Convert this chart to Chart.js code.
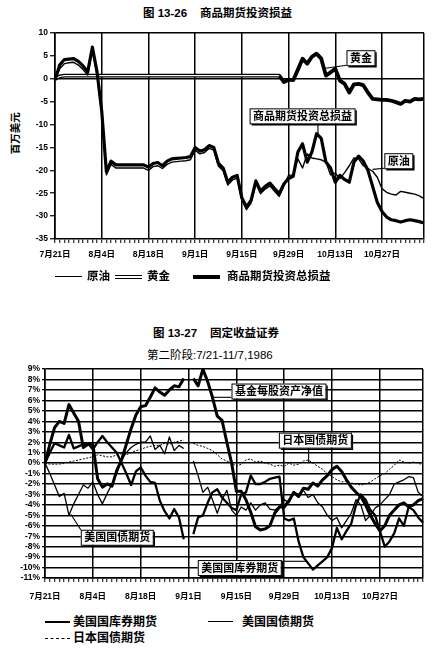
<!DOCTYPE html>
<html><head><meta charset="utf-8">
<script src="https://cdn.jsdelivr.net/npm/chart.js@4.4.1/dist/chart.umd.min.js"></script>
<style>
body{margin:0;background:#fff;width:436px;height:653px;position:relative;overflow:hidden;font-family:"Liberation Sans","Noto Sans CJK SC",sans-serif;font-weight:bold;color:#000}
.t{position:absolute;white-space:nowrap;line-height:1}
canvas{position:absolute;left:0}
.ln{position:absolute;height:0}
</style></head><body>
<div class="t" style="left:143px;top:8px;font-size:11.5px">图 13-26&nbsp;&nbsp;&nbsp;&nbsp;商品期货投资损益</div>
<div class="t" style="left:-6px;top:128px;font-size:10.5px;transform:rotate(-90deg);transform-origin:center">百万美元</div>
<canvas id="c1" width="436" height="250" style="top:25px"></canvas>
<div class="ln" style="left:55px;top:276px;width:27px;border-top:1.5px solid #000"></div>
<div class="t" style="left:87px;top:271px;font-size:11.5px">原油</div>
<div class="ln" style="left:115px;top:275px;width:27px;border-top:4px double #000"></div>
<div class="t" style="left:147px;top:271px;font-size:11.5px">黄金</div>
<div class="ln" style="left:193px;top:275px;width:27px;border-top:4px solid #000"></div>
<div class="t" style="left:227px;top:271px;font-size:11.5px">商品期货投资总损益</div>

<div class="t" style="left:153px;top:328px;font-size:11.5px">图 13-27&nbsp;&nbsp;&nbsp;&nbsp;固定收益证券</div>
<div class="t" style="left:147px;top:350px;font-size:11.5px;font-weight:normal">第二阶段:7/21-11/7,1986</div>
<canvas id="c2" width="436" height="250" style="top:362px"></canvas>
<div class="ln" style="left:45px;top:621px;width:25px;border-top:2.5px solid #000"></div>
<div class="t" style="left:73px;top:616px;font-size:12px">美国国库券期货</div>
<div class="ln" style="left:208px;top:621px;width:25px;border-top:1.5px solid #000"></div>
<div class="t" style="left:242px;top:616px;font-size:12px">美国国债期货</div>
<div class="ln" style="left:45px;top:638px;width:25px;border-top:1px dashed #000"></div>
<div class="t" style="left:73px;top:632px;font-size:12px">日本国债期货</div>
<script>
// ---------- data ----------
const dayLabels = ['7月21日','8月4日','8月18日','9月1日','9月15日','9月29日','10月13日','10月27日'];

// Fig 13-26 (million USD), one value per trading day 7/21 - 11/7
const crudeOil = [
 -0.3, 2.2, 3.3, 3.5, 3.6, 3.0, 2.0, 0.8, 6.2, 0.8,
 -7.7,-21.0,-18.7,-19.5,-19.5,-19.5,-19.5,-19.5,-19.5,-19.5,
 -20.0,-19.2,-19.0,-19.6,-18.7,-18.2,-18.1,-18.0,-17.9,-17.7,
 -15.6,-16.4,-16.1,-15.2,-15.6,-19.1,-20.1,-23.2,-22.1,-21.7,
 -26.6,-28.6,-27.1,-22.9,-25.1,-24.1,-23.4,-24.6,-25.7,-23.4,
 -21.1,-21.0,-17.5,-19.5,-16.4,-17.3,-17.5,-17.7,-18.2,-21.0,
 -20.6,-21.8,-20.5,-19.0,-17.3,-17.5,-19.0,-19.6,-20.2,-21.5,
 -24.0,-24.8,-25.2,-25.4,-24.6,-24.8,-25.0,-25.2,-25.6,-26.2];
const gold = [
 0.0, 0.5, 0.7, 0.7, 0.7, 0.7, 0.7, 0.7, 0.7, 0.7,
 0.7, 0.7, 0.7, 0.7, 0.7, 0.7, 0.7, 0.7, 0.7, 0.7,
 0.7, 0.7, 0.7, 0.7, 0.7, 0.7, 0.7, 0.7, 0.7, 0.7,
 0.7, 0.7, 0.7, 0.7, 0.7, 0.7, 0.7, 0.7, 0.7, 0.7,
 0.7, 0.7, 0.7, 0.7, 0.7, 0.7, 0.7, 0.7, 0.7,-0.7,
 -0.2,-0.3, 2.0, 4.4, 3.3, 4.8, 5.5, 4.4, 0.7, 1.4,
 2.2,-0.4,-1.1,-3.0,-1.2,-1.1,-1.4,-3.0,-4.4,-4.5,
 -4.6,-4.6,-4.8,-5.1,-5.5,-4.8,-5.0,-4.4,-4.5,-4.4];
const totalPL = [
 -0.3, 3.0, 4.2, 4.3, 4.4, 3.8, 2.8, 1.5, 6.9, 1.5,
 -7.0,-20.3,-18.0,-18.8,-18.8,-18.8,-18.8,-18.8,-18.8,-18.8,
 -19.3,-18.5,-18.3,-19.0,-18.0,-17.5,-17.4,-17.3,-17.2,-17.0,
 -15.0,-15.8,-15.5,-14.6,-15.0,-18.5,-19.5,-22.6,-21.5,-21.1,
 -26.0,-28.0,-26.5,-22.3,-24.5,-23.5,-22.8,-24.0,-25.1,-23.0,
 -21.8,-21.3,-16.0,-14.2,-18.2,-16.0,-12.0,-13.0,-18.2,-19.5,
 -22.6,-21.1,-22.0,-22.6,-18.2,-16.9,-18.0,-20.0,-23.5,-27.0,
 -29.0,-30.2,-30.8,-31.0,-31.3,-31.0,-30.8,-31.0,-31.2,-31.5];

// Fig 13-27 (%), 9/1 holiday = null
const navFund = [
 0.0, 1.8, 3.4, 4.0, 3.8, 5.6, 4.8, 4.0, 1.5, 1.8,
 1.8,-1.5,-2.3,-2.0,-2.2,-0.7, 0.3, 1.8, 3.3, 4.6,
 5.4, 5.5, 6.3, 7.2, 6.8, 6.5, 7.0, 7.4, 7.3, 8.1,
 null, 8.1, 7.4, 9.0, 7.8, 6.3, 4.5, 4.1, 2.0, 0.0,
 -2.7,-2.7,-3.5,-4.7,-6.1,-6.4,-6.3,-6.0,-4.8,-4.2,
 -4.2,-3.6,-2.8,-3.2,-2.4,-2.5,-1.9,-2.2,-1.6,-1.2,
 -0.6,-0.3,-0.8,-1.6,-2.3,-2.8,-3.2,-4.0,-5.0,-5.8,
 -6.5,-6.0,-5.0,-4.5,-4.0,-3.8,-4.2,-4.0,-3.6,-3.4];
const usTBond = [
 0.0, 1.0, 1.9, 1.7, 1.5, 2.7, 1.4, 1.6, 1.8, 1.9,
 1.3, 2.0, 2.6, 2.0, 1.5, 1.0, 0.0,-1.0,-2.1,-0.8,
 -0.4,-1.2,-1.8,-1.9,-3.6,-4.6,-5.3,-4.4,-5.2,-7.3,
 null,-6.8,-5.2,-5.0,-3.8,-2.8,-2.5,-3.3,-3.8,-4.3,
 -4.5,-3.0,-2.8,-1.2,-2.0,-2.0,-1.8,-1.5,-1.4,-1.3,
 -5.3,-5.5,-5.3,-7.5,-9.0,-9.6,-10.2,-9.8,-9.4,-9.0,
 -8.1,-6.2,-7.3,-6.5,-5.8,-4.0,-3.0,-3.5,-4.5,-5.0,
 -6.5,-8.0,-7.5,-6.7,-5.3,-6.0,-4.2,-4.5,-5.2,-5.7];
const usNote = [
 0.0,-1.0,-2.1,-3.2,-2.9,-5.0,-3.9,-3.0,-2.1,-2.4,
 -1.8,-3.0,-3.9,-2.9,-2.0,-1.0, 0.3, 1.0, 1.5, 1.8,
 2.0, 2.0, 2.6, 1.3, 1.7, 0.9, 2.5, 1.2, 1.7, 1.4,
 null, 0.2,-1.2,-2.8,-2.3,-3.5,-4.8,-3.5,-2.6,-4.5,
 -5.0,-4.2,-4.5,-3.8,-4.5,-4.0,-3.8,-4.4,-4.5,-4.2,
 -3.5,-3.8,-2.8,-3.0,-2.6,-3.3,-3.0,-3.8,-4.2,-5.0,
 -5.5,-5.2,-6.2,-5.5,-4.8,-3.5,-4.0,-5.5,-5.0,-4.3,
 -4.0,-3.5,-3.0,-2.0,-1.8,-1.6,-1.3,-1.4,-2.8,-3.2];
const jpBond = [
 0.0,-0.1,-0.1,-0.1, 0.0, 0.1, 0.2, 0.3, 0.4, 0.5,
 0.6, 0.8, 0.7, 0.6, 0.6, 0.8, 0.9, 0.8, 1.0, 1.2,
 1.3, 1.5, 1.6, 1.7, 1.7, 1.9, 1.8, 2.0, 2.1, 2.2,
 null, 1.9, 1.7, 1.6, 1.4, 1.2, 0.8, 0.4, 0.2, 0.0,
 -0.3,-0.1, 0.3, 0.4, 0.1, 0.2, 0.0,-0.1,-0.3,-0.2,
 -0.3, 0.0,-0.2,-0.1, 0.2, 0.3, 0.0,-0.3,-0.6,-1.0,
 -1.3,-1.6,-1.8,-1.7,-1.9,-2.0,-2.1,-2.0,-1.8,-1.5,
 -1.2,-1.0,-0.6,-0.2, 0.3, 0.1, 0.0, 0.1, 0.0,-0.2];

// ---------- helpers ----------
const FONT = '"Liberation Sans","Noto Sans CJK SC",sans-serif';
const tickFont = {family: FONT, size: 8.5, weight: 'bold'};
const days = totalPL.map((_, i) => i);
const last = days.length - 1;

const calloutPlugin = {
  id: 'callouts',
  afterDatasetsDraw(chart, args, opts) {
    const {ctx, scales: {x, y}} = chart;
    ctx.save();
    ctx.font = 'bold 11px ' + FONT;
    ctx.textAlign = 'center';
    ctx.textBaseline = 'middle';
    (opts.items || []).forEach(it => {
      const cx = x.getPixelForValue(it.bx), cy = y.getPixelForValue(it.by);
      const ax = x.getPixelForValue(it.ax), ay = y.getPixelForValue(it.ay);
      const w = ctx.measureText(it.text).width + 6, h = 15;
      const l = cx - w / 2, t = cy - h / 2;
      const sx = Math.max(l, Math.min(ax, l + w)), sy = Math.max(t, Math.min(ay, t + h));
      ctx.strokeStyle = '#000'; ctx.lineWidth = 1.1;
      ctx.beginPath(); ctx.moveTo(sx, sy); ctx.lineTo(ax, ay); ctx.stroke();
      ctx.fillStyle = '#fff'; ctx.fillRect(l, t, w, h);
      ctx.lineWidth = 1; ctx.strokeRect(l + 0.5, t + 0.5, w, h);
      ctx.lineWidth = 1.5;
      ctx.beginPath(); ctx.moveTo(l + 2, t + h + 1.5); ctx.lineTo(l + w + 1.5, t + h + 1.5); ctx.lineTo(l + w + 1.5, t + 2); ctx.stroke();
      ctx.fillStyle = '#000';
      ctx.fillText(it.text, cx + 0.5, cy + 1);
    });
    ctx.restore();
  }
};

function xScale(tickPad, height) {
  return {
    type: 'category', offset: false,
    grid: {
      offset: false,
      color: c => (c.index % 10 === 0 || c.index === last) ? '#000' : 'rgba(0,0,0,0)',
      lineWidth: 1.5, drawTicks: true, tickLength: 4, tickColor: '#000', tickWidth: 1
    },
    border: {display: true, color: '#000', width: 1.6},
    ticks: {
      autoSkip: false, maxRotation: 0, minRotation: 0, padding: tickPad, color: '#000', font: tickFont,
      callback: (v, i) => i % 10 === 0 ? dayLabels[i / 10] : ''
    },
    afterFit: s => { s.height = height; }
  };
}

const line = (data, w, extra) => Object.assign({data, borderColor: '#000', borderWidth: w, pointRadius: 0, tension: 0, fill: false, spanGaps: false, borderJoinStyle: 'round'}, extra || {});

// ---------- chart 1 ----------
new Chart(document.getElementById('c1'), {
  type: 'line',
  data: {
    labels: days,
    datasets: [
      line(totalPL, 3.2, {label: '商品期货投资总损益', order: 0}),
      line(crudeOil, 1.4, {label: '原油', order: 1}),
      line(gold, 1.2, {label: '黄金', order: 2, borderColor: '#fff',
        segment: {borderColor: c => c.p0DataIndex < 48 ? '#fff' : 'rgba(0,0,0,0)'}}),
      line(gold, 3.8, {label: '黄金', order: 3})
    ]
  },
  options: {
    responsive: false, animation: false,
    layout: {padding: {top: 8, right: 12, bottom: 8, left: 0}},
    plugins: {legend: {display: false}, tooltip: {enabled: false},
      callouts: {items: [
        {text: '黄金', bx: 65.4, by: 4.6, ax: 57.9, ay: 2.3},
        {text: '商品期货投资总损益', bx: 52.9, by: -8.1, ax: 56.3, ay: -12.6},
        {text: '原油', bx: 73.5, by: -17.9, ax: 68.0, ay: -19.8}
      ]}},
    scales: {
      x: xScale(7, 28),
      y: {
        min: -35, max: 10,
        ticks: {stepSize: 5, autoSkip: false, padding: 2, color: '#000', font: tickFont},
        grid: {color: c => (c.tick.value === 0 || c.tick.value === 10) ? '#000' : 'rgba(0,0,0,0)',
          lineWidth: 1.5, tickColor: '#000', tickLength: 5, tickWidth: 1.2},
        border: {display: true, color: '#000', width: 1.6},
        afterFit: s => { s.width = 55; }
      }
    }
  },
  plugins: [calloutPlugin]
});

// ---------- chart 2 ----------
new Chart(document.getElementById('c2'), {
  type: 'line',
  data: {
    labels: days,
    datasets: [
      line(navFund, 3, {label: '基金每股资产净值', order: 0}),
      line(usTBond, 2.3, {label: '美国国库券期货', order: 1}),
      line(usNote, 1.3, {label: '美国国债期货', order: 2}),
      line(jpBond, 1, {label: '日本国债期货', order: 3, borderDash: [2, 1.5]})
    ]
  },
  options: {
    responsive: false, animation: false,
    layout: {padding: {top: 7, right: 13, bottom: 4, left: 0}},
    plugins: {legend: {display: false}, tooltip: {enabled: false},
      callouts: {items: [
        {text: '基金每股资产净值', bx: 48.8, by: 6.9, ax: 35.0, ay: 6.3},
        {text: '日本国债期货', bx: 56.4, by: 2.2, ax: 55.1, ay: 0.1},
        {text: '美国国债期货', bx: 15.0, by: -7.1, ax: 5.4, ay: -4.9},
        {text: '美国国库券期货', bx: 40.6, by: -10.0, ax: 54.7, ay: -9.4}
      ]}},
    scales: {
      x: xScale(10, 30),
      y: {
        min: -11, max: 9,
        ticks: {stepSize: 1, autoSkip: false, padding: 2, color: '#000', font: tickFont, callback: v => v + '%'},
        grid: {color: '#000', lineWidth: 1.4, tickColor: '#000', tickLength: 3, tickWidth: 1.2},
        border: {display: true, color: '#000', width: 1.6},
        afterFit: s => { s.width = 45; }
      }
    }
  },
  plugins: [calloutPlugin]
});
</script>
</body></html>
